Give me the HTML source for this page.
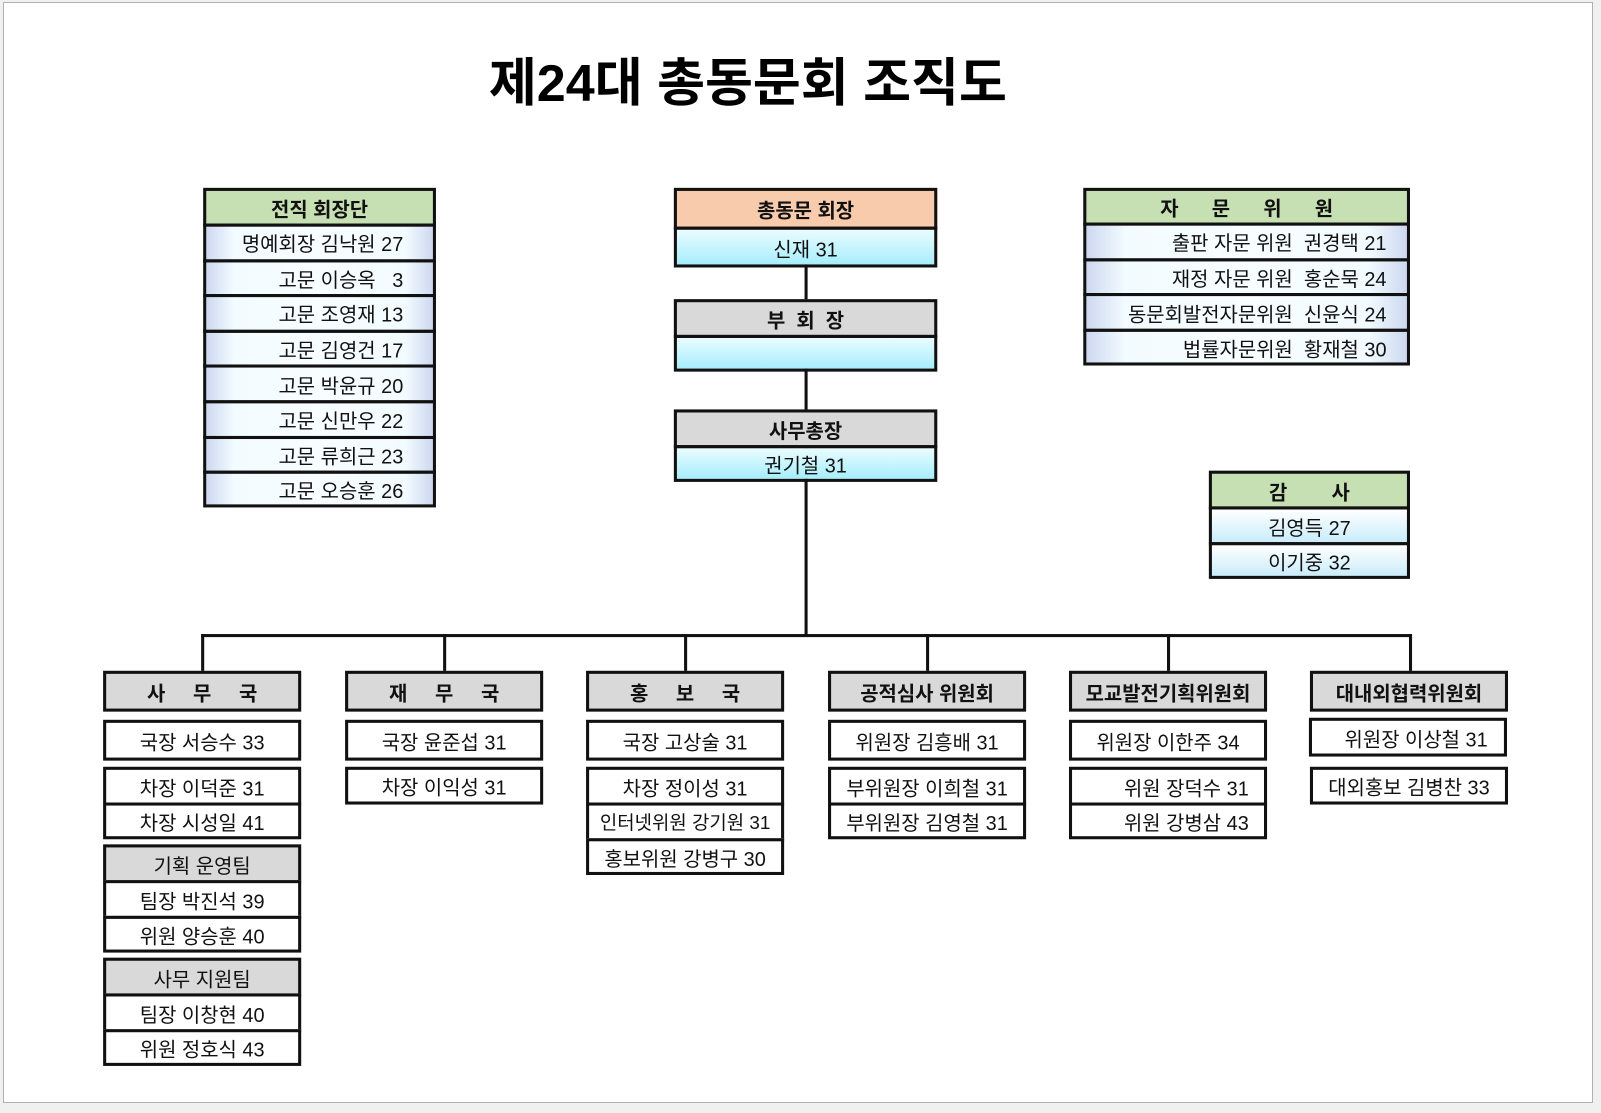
<!DOCTYPE html>
<html><head><meta charset="utf-8"><style>
html,body{margin:0;padding:0;}
body{width:1601px;height:1113px;background:#f0f0f0;position:relative;overflow:hidden;font-family:"Liberation Sans","Noto Sans CJK KR","NanumGothic",sans-serif;}
#page{position:absolute;left:3px;top:2px;width:1590px;height:1101px;background:#fff;border:1px solid #b0b0b0;box-sizing:border-box;}
#c{position:absolute;left:0;top:0;width:1570px;height:1090px;transform:scale(1.021);transform-origin:0 0;}
.b{position:absolute;border:3px solid #111;box-sizing:border-box;display:flex;align-items:center;justify-content:center;font-size:19.5px;color:#111;white-space:nowrap;background:#fff;}
.h{font-weight:bold;}
.g{background:#c6e0b4;}
.gr{background:#d9d9d9;}
.p{background:#f8cbad;}
.cy{background:linear-gradient(#eafcff,#a6eefc);}
.hb{background:linear-gradient(90deg,#cdd8f0,#f2fbff 12%,#f8fdff 50%,#f2fbff 88%,#cdd8f0);}
.vb{background:linear-gradient(#ffffff,#c9ecfb);}
.r{justify-content:flex-end;}
.l{position:absolute;background:#111;}
#t{position:absolute;left:400px;width:665px;top:40px;text-align:center;font-size:51px;font-weight:bold;}
</style></head><body><div id="page"></div>
<div id="c">
<div id="t">제24대 총동문회 조직도</div>

<div class="b g h" style="left:199px;top:184px;width:228px;height:38px;">전직 회장단</div>
<div class="b hb r" style="left:199px;top:219px;width:228px;height:37.6px;padding-right:29px;">명예회장 김낙원 27</div>
<div class="b hb r" style="left:199px;top:253.6px;width:228px;height:37.6px;padding-right:29px;">고문 이승옥 &nbsp;&nbsp;3</div>
<div class="b hb r" style="left:199px;top:288.2px;width:228px;height:37.6px;padding-right:29px;">고문 조영재 13</div>
<div class="b hb r" style="left:199px;top:322.8px;width:228px;height:37.6px;padding-right:29px;">고문 김영건 17</div>
<div class="b hb r" style="left:199px;top:357.4px;width:228px;height:37.6px;padding-right:29px;">고문 박윤규 20</div>
<div class="b hb r" style="left:199px;top:392px;width:228px;height:37.6px;padding-right:29px;">고문 신만우 22</div>
<div class="b hb r" style="left:199px;top:426.6px;width:228px;height:37.6px;padding-right:29px;">고문 류희근 23</div>
<div class="b hb r" style="left:199px;top:461.2px;width:228px;height:35.8px;padding-right:29px;">고문 오승훈 26</div>

<div class="l" style="left:788px;top:255px;width:3px;height:368px;"></div>
<div class="b p h" style="left:660px;top:184px;width:258px;height:41px;">총동문 회장</div>
<div class="b cy" style="left:660px;top:222px;width:258px;height:40px;">신재 31</div>
<div class="b gr h" style="left:660px;top:293px;width:258px;height:38px;">부 &nbsp;회 &nbsp;장</div>
<div class="b cy" style="left:660px;top:328px;width:258px;height:36px;"></div>
<div class="b gr h" style="left:660px;top:401px;width:258px;height:38px;">사무총장</div>
<div class="b cy" style="left:660px;top:436px;width:258px;height:36px;">권기철 31</div>

<div class="b g h" style="left:1061px;top:184px;width:320px;height:37px;">자 &nbsp;&nbsp;&nbsp;&nbsp;&nbsp;문 &nbsp;&nbsp;&nbsp;&nbsp;&nbsp;위 &nbsp;&nbsp;&nbsp;&nbsp;&nbsp;원</div>
<div class="b hb r" style="left:1061px;top:218px;width:320px;height:37.7px;padding-right:20px;">출판 자문 위원 &nbsp;권경택 21</div>
<div class="b hb r" style="left:1061px;top:252.7px;width:320px;height:37.7px;padding-right:20px;">재정 자문 위원 &nbsp;홍순묵 24</div>
<div class="b hb r" style="left:1061px;top:287.4px;width:320px;height:37.7px;padding-right:20px;">동문회발전자문위원 &nbsp;신윤식 24</div>
<div class="b hb r" style="left:1061px;top:322.1px;width:320px;height:35.9px;padding-right:20px;">법률자문위원 &nbsp;황재철 30</div>

<div class="b g h" style="left:1184px;top:461px;width:197px;height:38px;">감 &nbsp;&nbsp;&nbsp;&nbsp;&nbsp;&nbsp;&nbsp;사</div>
<div class="b vb" style="left:1184px;top:496px;width:197px;height:38px;">김영득 27</div>
<div class="b vb" style="left:1184px;top:531px;width:197px;height:36px;">이기중 32</div>

<div class="l" style="left:197px;top:621px;width:1186px;height:3px;"></div>
<div class="l" style="left:197px;top:621px;width:3px;height:38px;"></div>
<div class="l" style="left:434px;top:621px;width:3px;height:38px;"></div>
<div class="l" style="left:670px;top:621px;width:3px;height:38px;"></div>
<div class="l" style="left:907px;top:621px;width:3px;height:38px;"></div>
<div class="l" style="left:1143px;top:621px;width:3px;height:38px;"></div>
<div class="l" style="left:1380px;top:621px;width:3px;height:38px;"></div>

<div class="b gr h" style="left:101px;top:657px;width:194px;height:40px;">사 &nbsp;&nbsp;&nbsp;&nbsp;무 &nbsp;&nbsp;&nbsp;&nbsp;국</div>
<div class="b" style="left:101px;top:705px;width:194px;height:40px;">국장 서승수 33</div>
<div class="b" style="left:101px;top:751px;width:194px;height:38px;">차장 이덕준 31</div>
<div class="b" style="left:101px;top:786px;width:194px;height:36px;">차장 시성일 41</div>
<div class="b gr" style="left:101px;top:827px;width:194px;height:38px;">기획 운영팀</div>
<div class="b" style="left:101px;top:862px;width:194px;height:38px;">팀장 박진석 39</div>
<div class="b" style="left:101px;top:897px;width:194px;height:36px;">위원 양승훈 40</div>
<div class="b gr" style="left:101px;top:938px;width:194px;height:38px;">사무 지원팀</div>
<div class="b" style="left:101px;top:973px;width:194px;height:38px;">팀장 이창현 40</div>
<div class="b" style="left:101px;top:1008px;width:194px;height:36px;">위원 정호식 43</div>

<div class="b gr h" style="left:338px;top:657px;width:194px;height:40px;">재 &nbsp;&nbsp;&nbsp;&nbsp;무 &nbsp;&nbsp;&nbsp;&nbsp;국</div>
<div class="b" style="left:338px;top:705px;width:194px;height:40px;">국장 윤준섭 31</div>
<div class="b" style="left:338px;top:751px;width:194px;height:37px;">차장 이익성 31</div>

<div class="b gr h" style="left:574px;top:657px;width:194px;height:40px;">홍 &nbsp;&nbsp;&nbsp;&nbsp;보 &nbsp;&nbsp;&nbsp;&nbsp;국</div>
<div class="b" style="left:574px;top:705px;width:194px;height:40px;">국장 고상술 31</div>
<div class="b" style="left:574px;top:751px;width:194px;height:38px;">차장 정이성 31</div>
<div class="b" style="left:574px;top:786px;width:194px;height:38px;font-size:18.5px;">인터넷위원 강기원 31</div>
<div class="b" style="left:574px;top:821px;width:194px;height:36px;">홍보위원 강병구 30</div>

<div class="b gr h" style="left:811px;top:657px;width:194px;height:40px;">공적심사 위원회</div>
<div class="b" style="left:811px;top:705px;width:194px;height:40px;">위원장 김흥배 31</div>
<div class="b" style="left:811px;top:751px;width:194px;height:38px;">부위원장 이희철 31</div>
<div class="b" style="left:811px;top:786px;width:194px;height:36px;">부위원장 김영철 31</div>

<div class="b gr h" style="left:1047px;top:657px;width:194px;height:40px;">모교발전기획위원회</div>
<div class="b" style="left:1047px;top:705px;width:194px;height:40px;">위원장 이한주 34</div>
<div class="b" style="left:1047px;top:751px;width:194px;height:38px;padding-left:36px;">위원 장덕수 31</div>
<div class="b" style="left:1047px;top:786px;width:194px;height:36px;padding-left:36px;">위원 강병삼 43</div>

<div class="b gr h" style="left:1283px;top:657px;width:194px;height:40px;">대내외협력위원회</div>
<div class="b" style="left:1282px;top:703px;width:194px;height:38px;padding-left:16px;">위원장 이상철 31</div>
<div class="b" style="left:1283px;top:751px;width:194px;height:37px;">대외홍보 김병찬 33</div>
</div>
</body></html>
